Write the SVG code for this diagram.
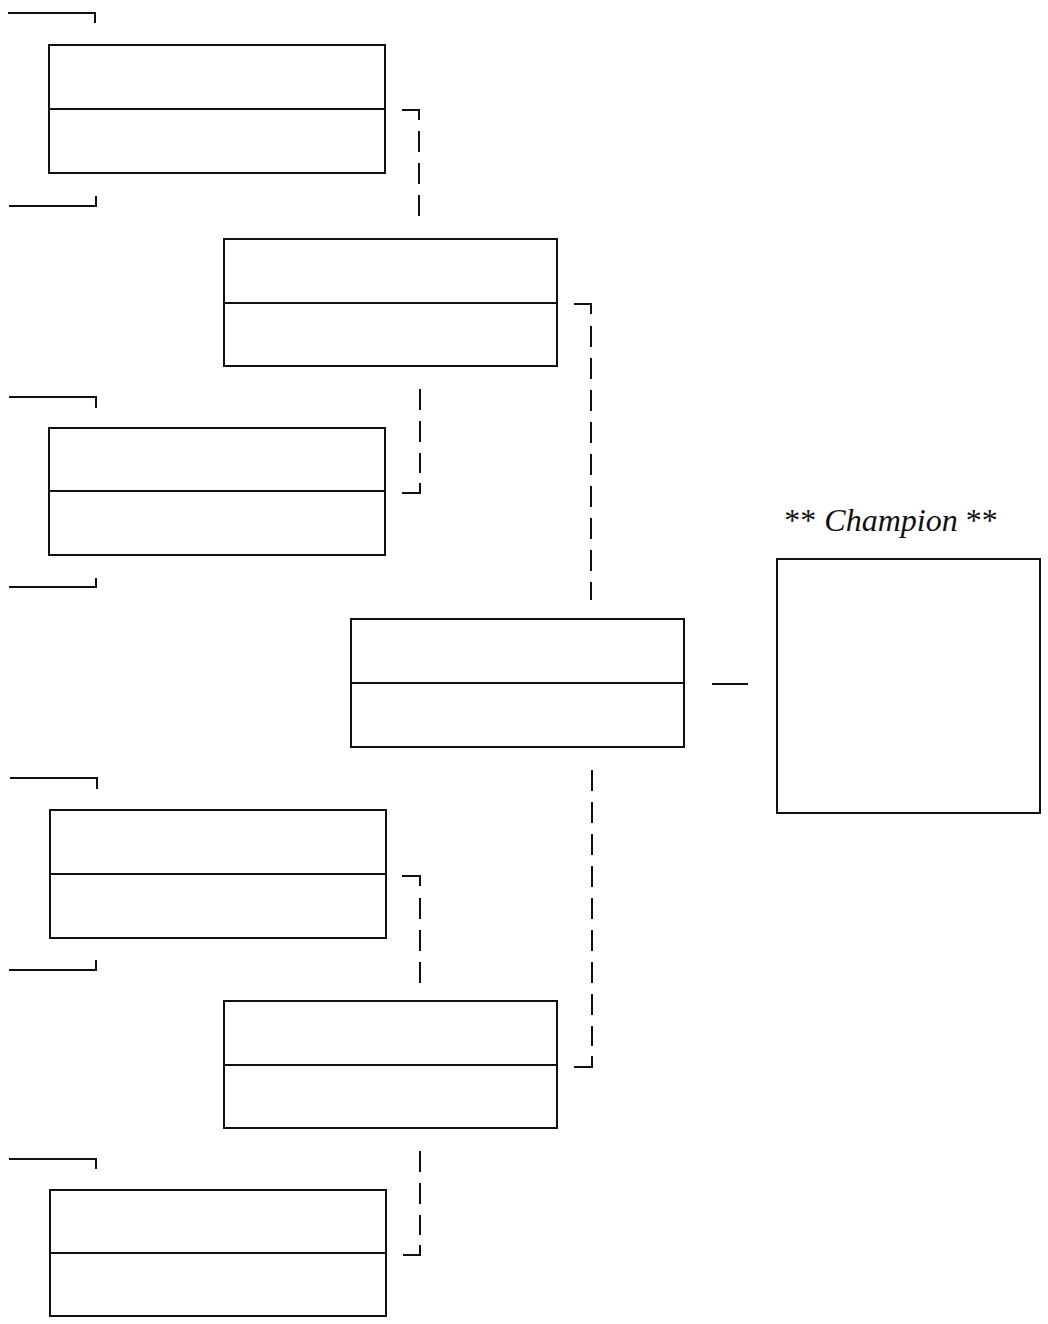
<svg xmlns="http://www.w3.org/2000/svg" width="1048" height="1324" viewBox="0 0 1048 1324">
<style>
.box{fill:#fff;stroke:#111;stroke-width:2}
.div{stroke:#111;stroke-width:2;fill:none}
.solid{fill:none;stroke:#111;stroke-width:2}
.dash{fill:none;stroke:#111;stroke-width:2;stroke-dasharray:21 11}
.title{font-family:"Liberation Serif","Times New Roman",serif;font-size:32px;fill:#111}
</style>
<rect width="1048" height="1324" fill="#fff"/>
<g id="brackets">
<polyline class="solid" points="8,13 95,13 95,23"/>
<polyline class="solid" points="9,206 96,206 96,196"/>
<polyline class="solid" points="9,397 96,397 96,408"/>
<polyline class="solid" points="9,587 96,587 96,578"/>
<polyline class="solid" points="10,778 97,778 97,789"/>
<polyline class="solid" points="9,970 96,970 96,960"/>
<polyline class="solid" points="9,1159 96,1159 96,1169"/>
</g>
<g id="match1"><rect class="box" x="49" y="45" width="336" height="128"/><line class="div" x1="49" y1="109" x2="385" y2="109"/></g>
<g id="match2"><rect class="box" x="224" y="239" width="333" height="127"/><line class="div" x1="224" y1="303" x2="557" y2="303"/></g>
<g id="match3"><rect class="box" x="49" y="428" width="336" height="127"/><line class="div" x1="49" y1="491" x2="385" y2="491"/></g>
<g id="final"><rect class="box" x="351" y="619" width="333" height="128"/><line class="div" x1="351" y1="683" x2="684" y2="683"/></g>
<g id="match5"><rect class="box" x="50" y="810" width="336" height="128"/><line class="div" x1="50" y1="874" x2="386" y2="874"/></g>
<g id="match6"><rect class="box" x="224" y="1001" width="333" height="127"/><line class="div" x1="224" y1="1065" x2="557" y2="1065"/></g>
<g id="match7"><rect class="box" x="50" y="1190" width="336" height="126"/><line class="div" x1="50" y1="1253" x2="386" y2="1253"/></g>
<g id="champion">
<text class="title" x="891" y="531" text-anchor="middle">** <tspan font-style="italic">Champion</tspan> **</text>
<rect class="box" x="777" y="559" width="263" height="254"/>
</g>
<g id="connectors">
<polyline class="solid" points="402,110 419,110 419,120"/>
<line class="dash" x1="419" y1="131" x2="419" y2="219"/>
<line class="dash" x1="420" y1="389" x2="420" y2="473"/>
<polyline class="solid" points="420,483 420,493 402,493"/>
<polyline class="solid" points="574,304 591,304 591,314"/>
<line class="dash" x1="591" y1="326" x2="591" y2="600"/>
<line class="dash" x1="592" y1="770" x2="592" y2="1046"/>
<polyline class="solid" points="592,1056 592,1067 574,1067"/>
<polyline class="solid" points="402,876 420,876 420,886"/>
<line class="dash" x1="420" y1="898" x2="420" y2="983"/>
<line class="dash" x1="420" y1="1151" x2="420" y2="1235"/>
<polyline class="solid" points="420,1245 420,1255 403,1255"/>
<line class="solid" x1="712" y1="684" x2="748" y2="684"/>
</g>
</svg>
